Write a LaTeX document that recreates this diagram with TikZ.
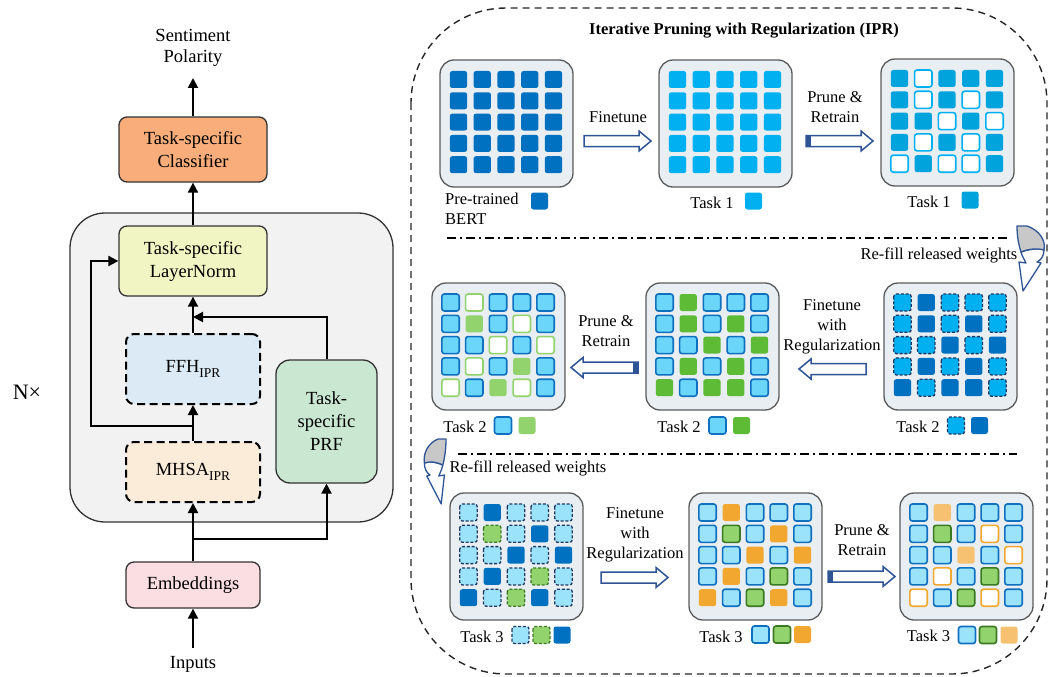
\documentclass[tikz,border=0pt]{standalone}
\usepackage{fontspec}
\setmainfont{Liberation Serif}
\usetikzlibrary{arrows.meta}
\definecolor{dkblue}{HTML}{0070C0}
\definecolor{cyan1}{HTML}{00B0F0}
\definecolor{cyan2}{HTML}{00A3DB}
\definecolor{navy}{HTML}{1F3864}
\definecolor{arrnavy}{HTML}{2F5496}
\definecolor{ltblue}{HTML}{6BD6FA}
\definecolor{ltblue2}{HTML}{9BE3FB}
\definecolor{blue1}{HTML}{1070C0}
\definecolor{green1}{HTML}{5DBB36}
\definecolor{green2}{HTML}{92D36E}
\definecolor{dkgreen}{HTML}{3B7A22}
\definecolor{orange1}{HTML}{F2A830}
\definecolor{ltorange}{HTML}{F6C272}
\definecolor{gridfill}{HTML}{E8EEF2}
\definecolor{gridline}{HTML}{5A5A5A}
\definecolor{cCls}{HTML}{F8AD7A}
\definecolor{cLN}{HTML}{F1F4C3}
\definecolor{cFFH}{HTML}{DCEAF5}
\definecolor{cMH}{HTML}{FBEBD9}
\definecolor{cPRF}{HTML}{CAE7D1}
\definecolor{cEmb}{HTML}{FBDEE2}
\definecolor{cCont}{HTML}{F2F2F2}
\definecolor{refgray}{HTML}{C8C8C8}
\newcommand\Lfnt{\fontsize{18.5}{23}\selectfont}
\newcommand\Rfnt{\fontsize{16.5}{20}\selectfont}
\newcommand\ipr{\raisebox{-0.3em}{\fontsize{13.5}{13.5}\selectfont IPR}}
\tikzset{
  cell/.style={rounded corners=2.5pt},
  cB/.style={fill=dkblue},
  cC/.style={fill=cyan1},
  cP/.style={fill=cyan2},
  cWc/.style={fill=white,draw=cyan1,line width=1.6pt},
  cD/.style={fill=cyan1,draw=navy,line width=1.3pt,dash pattern=on 3pt off 1.8pt},
  cL/.style={fill=ltblue,draw=blue1,line width=1.6pt},
  cG/.style={fill=green1},
  cg/.style={fill=green2},
  cWg/.style={fill=white,draw=green2,line width=1.6pt},
  cLd/.style={fill=ltblue2,draw=navy,line width=1.3pt,dash pattern=on 3pt off 1.8pt},
  cGd/.style={fill=green2,draw=dkgreen,line width=1.3pt,dash pattern=on 3pt off 1.8pt},
  cM/.style={fill=ltblue2,draw=blue1,line width=1.6pt},
  cGb/.style={fill=green2,draw=dkgreen,line width=1.6pt},
  cO/.style={fill=orange1},
  co/.style={fill=ltorange},
  cWo/.style={fill=white,draw=orange1,line width=1.6pt},
  gridbox/.style={draw=gridline,fill=gridfill,line width=1.3pt,rounded corners=14pt,minimum width=133pt,minimum height=127pt,inner sep=0pt},
  rtext/.style={font=\Rfnt,align=center,inner sep=0pt},
  lbox/.style={draw=black!80,line width=1.3pt,rounded corners=8pt,align=center,font=\Lfnt,inner sep=0pt},
  dbox/.style={lbox,draw=black,line width=2pt,dash pattern=on 8pt off 4.5pt},
  larr/.style={line width=2pt,-{Triangle[length=10pt,width=10pt]}},
  blkstyle/.style={fill=white,draw=arrnavy,line width=1.5pt,line join=miter},
  blk/.pic={\path[blkstyle] (0,-5.5) -- (55,-5.5) -- (55,-10) -- (67,0) -- (55,10) -- (55,5.5) -- (0,5.5) -- cycle;},
  blkt/.pic={\path[blkstyle] (0,-5.5) -- (55,-5.5) -- (55,-10) -- (67,0) -- (55,10) -- (55,5.5) -- (0,5.5) -- cycle;
             \fill[arrnavy] (0,-5.5) rectangle (5,5.5);},
  refill/.pic={
    \path[fill=white,draw=arrnavy,line width=1.3pt,line join=round] (4,26) .. controls (12,23) and (22,22) .. (27,24) .. controls (27,30) and (24,34) .. (20,36) -- (24,37) -- (6,65) -- (2,36) -- (9,37) .. controls (7,33) and (5,30) .. (4,26) -- cycle;
    \path[fill=refgray,draw=arrnavy,line width=1.3pt,line join=round] (0,0) -- (10,0) .. controls (22,4) and (29,14) .. (27,24) .. controls (20,22) and (11,23) .. (4,26) .. controls (1,17) and (0,8) .. (0,0) -- cycle;}
}
\newcommand\mkgrid[4]{%
  \node[gridbox] (#1) at ({#2+66.5},{#3+63.5}) {};
  \foreach \s [count=\k from 0] in {#4} {%
    \pgfmathsetmacro\cx{#2+18.5+23.75*mod(\k,5)}%
    \pgfmathsetmacro\cy{#3+19.5+21.3*floor(\k/5)}%
    \path[cell,\s] (\cx-8.7,\cy-8.5) rectangle (\cx+8.7,\cy+8.5);
  }%
}
\newcommand\lsq[3]{\path[cell,#3] (#1-8.5,#2-8.5) rectangle (#1+8.5,#2+8.5);}
\begin{document}
\begin{tikzpicture}[x=1pt,y=-1pt]
\useasboundingbox (0,0) rectangle (1050,677);
% ---------------- left panel ----------------
\node[draw=black!80,fill=cCont,line width=1.3pt,rounded corners=35pt,minimum width=323pt,minimum height=309pt,inner sep=0pt] (cont) at (231.5,367.5) {};
\node[lbox,fill=cCls,minimum width=148pt,minimum height=65pt] (cls) at (193,149.5) {Task-specific\\Classifier};
\node[lbox,fill=cLN,minimum width=148pt,minimum height=70pt] (ln) at (193,261) {Task-specific\\LayerNorm};
\node[dbox,fill=cFFH,minimum width=134pt,minimum height=70pt] (ffh) at (193,369) {FFH\ipr};
\node[dbox,fill=cMH,minimum width=134pt,minimum height=60pt] (mhsa) at (193,472) {MHSA\ipr};
\node[lbox,fill=cPRF,minimum width=101pt,minimum height=123pt,rounded corners=14pt] (prf) at (326.5,421.5) {Task-\\specific\\PRF};
\node[lbox,fill=cEmb,minimum width=134pt,minimum height=46pt] (emb) at (193,585) {Embeddings};
\node[font=\fontsize{18.5}{21}\selectfont,align=center,inner sep=0pt] (out) at (193,48) {Sentiment\\Polarity};
\node[font=\Lfnt,inner sep=0pt] (inp) at (193,664) {Inputs};
\node[font=\fontsize{22}{22}\selectfont,inner sep=0pt] (nx) at (27,392) {N×};
\coordinate (outp) at (193,78);
\coordinate (inpp) at (193,648);
\coordinate (b1) at (193,539);
\coordinate (b2) at (193,426);
\coordinate (b3) at (193,317);
\coordinate (c2) at (91,426);
\draw[larr] (cls.north) -- (outp);
\draw[larr] (ln.north) -- (cls.south);
\draw[larr] (ffh.north) -- (ln.south);
\draw[larr] (mhsa.north) -- (ffh.south);
\draw[larr] (emb.north) -- (mhsa.south);
\draw[larr] (inpp) -- (emb.south);
\draw[larr] (b1) -| (prf.south);
\draw[larr] (b2) -- (c2) |- (ln.west);
\draw[larr] (prf.north) |- (b3);
% ---------------- right panel ----------------
\draw[black!85,line width=1.4pt,dash pattern=on 7pt off 5pt,rounded corners=95pt] (411,8) rectangle (1047,674);
\node[font=\bfseries\fontsize{16.5}{20}\selectfont,inner sep=0pt] (title) at (744,31) {Iterative Pruning with Regularization (IPR)};
\draw[line width=1.5pt,dash pattern=on 9pt off 4pt on 2pt off 4pt] (447,238) -- (1008,238);
\draw[line width=1.5pt,dash pattern=on 9pt off 4pt on 2pt off 4pt] (458,454) -- (1017,454);
% grids
\mkgrid{g1}{440}{60}{cB,cB,cB,cB,cB,cB,cB,cB,cB,cB,cB,cB,cB,cB,cB,cB,cB,cB,cB,cB,cB,cB,cB,cB,cB}
\mkgrid{g2}{659}{60}{cC,cC,cC,cC,cC,cC,cC,cC,cC,cC,cC,cC,cC,cC,cC,cC,cC,cC,cC,cC,cC,cC,cC,cC,cC}
\mkgrid{g3}{881}{59}{cP,cWc,cP,cP,cP, cP,cWc,cP,cWc,cP, cP,cP,cWc,cP,cWc, cP,cWc,cP,cWc,cP, cWc,cP,cWc,cWc,cP}
\mkgrid{g4}{884}{283}{cD,cB,cD,cD,cD, cD,cB,cD,cB,cD, cD,cD,cB,cD,cB, cD,cB,cD,cB,cD, cB,cD,cB,cB,cD}
\mkgrid{g5}{646}{283}{cL,cG,cL,cL,cL, cL,cG,cL,cG,cL, cL,cL,cG,cL,cG, cL,cG,cL,cG,cL, cG,cL,cG,cG,cL}
\mkgrid{g6}{432}{283}{cL,cWg,cL,cL,cL, cL,cg,cL,cWg,cL, cL,cL,cWg,cL,cWg, cL,cWg,cL,cg,cL, cWg,cL,cg,cWg,cL}
\mkgrid{g7}{450}{493}{cLd,cB,cLd,cLd,cLd, cLd,cGd,cLd,cB,cLd, cLd,cLd,cB,cLd,cB, cLd,cB,cLd,cGd,cLd, cB,cLd,cGd,cB,cLd}
\mkgrid{g8}{689}{493}{cM,cO,cM,cM,cM, cM,cGb,cM,cO,cM, cM,cM,cO,cM,cO, cM,cO,cM,cGb,cM, cO,cM,cGb,cO,cM}
\mkgrid{g9}{900}{493}{cM,co,cM,cM,cM, cM,cGb,cM,cWo,cM, cM,cM,co,cM,cWo, cM,cWo,cM,cGb,cM, cWo,cM,cGb,cWo,cM}
% legends
\node[font=\Rfnt,align=left,anchor=north west,inner sep=0pt] (l1) at (445,193) {Pre-trained\\BERT};
\lsq{539.5}{201}{cB}
\node[rtext] (l2) at (712,203) {Task 1};
\lsq{753.5}{201}{cC}
\node[rtext] (l3) at (929,202) {Task 1};
\lsq{970}{200}{cP}
\node[rtext] (l4) at (918,427) {Task 2};
\lsq{956}{425.5}{cD}
\lsq{979.5}{425.5}{cB}
\node[rtext] (l5) at (679,427) {Task 2};
\lsq{717.5}{425.5}{cL}
\lsq{741.5}{425.5}{cG}
\node[rtext] (l6) at (465,427) {Task 2};
\lsq{503}{425.5}{cL}
\lsq{527}{425.5}{cg}
\node[rtext] (l7) at (482,637) {Task 3};
\lsq{520.5}{635}{cLd}
\lsq{541.5}{635}{cGd}
\lsq{562}{635}{cB}
\node[rtext] (l8) at (721,637) {Task 3};
\lsq{760.5}{634.5}{cM}
\lsq{782}{634.5}{cGb}
\lsq{802.5}{634.5}{cO}
\node[rtext] (l9) at (928.5,636) {Task 3};
\lsq{967}{635}{cM}
\lsq{988}{635}{cGb}
\lsq{1009}{635}{co}
% block arrows and labels
\pic at (584,141) {blk};
\node[rtext] (t1) at (618,117) {Finetune};
\pic at (806,141) {blkt};
\node[rtext] (t2) at (835,107) {Prune \&\\Retrain};
\pic[xscale=-1] at (866,369) {blk};
\node[rtext] (t3) at (832,327) {Finetune\\with\\Regularization};
\pic[xscale=-1] at (638,367.5) {blkt};
\node[rtext] (t4) at (606,331) {Prune \&\\Retrain};
\pic at (601,577.5) {blk};
\node[rtext] (t5) at (635,534.5) {Finetune\\with\\Regularization};
\pic at (828,576.5) {blkt};
\node[rtext] (t6) at (862,540) {Prune \&\\Retrain};
% refill arrows
\pic at (1017,226) {refill};
\node[rtext] (t7) at (939,255) {Re-fill released weights};
\pic[xscale=-0.8] at (446,439) {refill};
\node[rtext] (t8) at (528,468) {Re-fill released weights};
\end{tikzpicture}
\end{document}
